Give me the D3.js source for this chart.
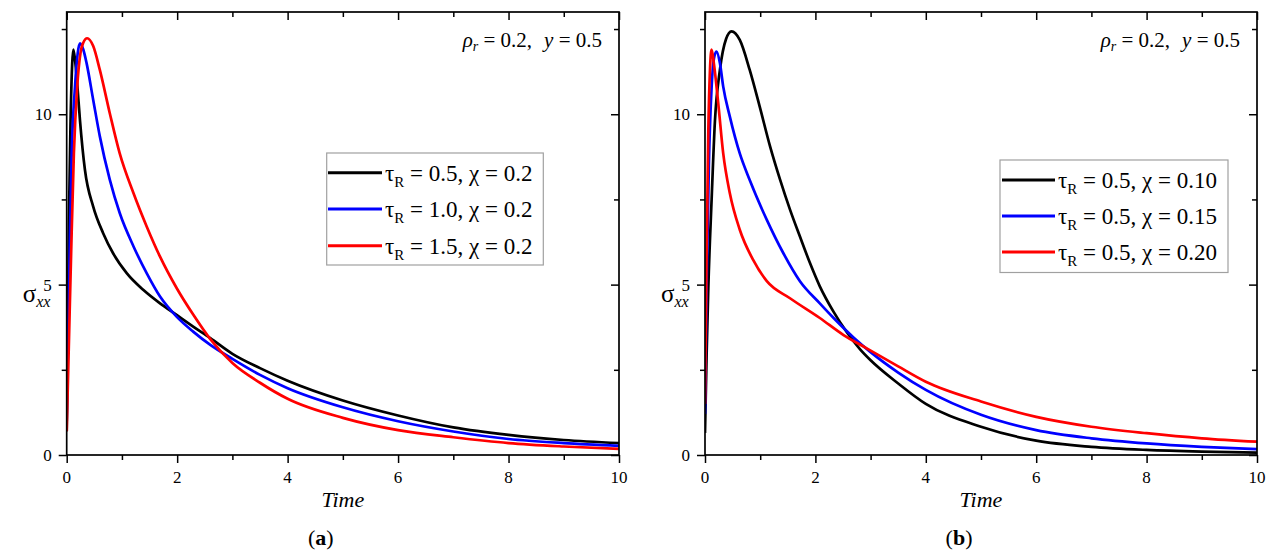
<!DOCTYPE html>
<html><head><meta charset="utf-8">
<script src="https://cdn.jsdelivr.net/npm/d3@7"></script>
<style>body{margin:0;background:#fff}</style>
</head><body>
<svg id="c" width="1277" height="558"></svg>
<script>
// ---------- data ----------
// Panel (a): tau_R varies, chi = 0.2
const timeA1  = [0,0.02,0.04,0.07,0.1,0.12,0.15,0.19,0.24,0.33,0.48,0.66,0.84,1.09,1.39,1.69,1.99,2.29,2.6,3.0,3.5,4,5,6,7,8,9,10];
const sigmaA1 = [0.7,3.5,6.9,9.8,11.5,11.9,11.6,10.9,9.83,8.37,7.29,6.51,5.92,5.33,4.84,4.45,4.11,3.77,3.43,2.97,2.55,2.18,1.6,1.16,0.81,0.59,0.44,0.35];
const timeA2  = [0,0.04,0.09,0.15,0.2,0.24,0.3,0.36,0.48,0.6,0.78,0.96,1.21,1.45,1.69,1.99,2.29,2.6,3.0,3.5,4,5,6,7,8,9,10];
const sigmaA2 = [1.0,4.9,8.85,10.8,11.8,12.08,11.9,11.5,10.42,9.35,8.08,7.1,6.12,5.33,4.65,4.06,3.62,3.23,2.82,2.35,1.96,1.4,0.99,0.69,0.47,0.35,0.27];
const timeA3  = [0,0.04,0.08,0.13,0.19,0.25,0.3,0.37,0.48,0.6,0.78,0.96,1.21,1.45,1.69,1.99,2.29,2.6,3.0,3.5,4,5,6,7,8,9,10];
const sigmaA3 = [0.7,3.3,5.9,8.85,10.8,11.8,12.1,12.23,12.0,11.3,10.03,8.85,7.68,6.7,5.82,4.9,4.12,3.4,2.7,2.12,1.65,1.09,0.73,0.52,0.35,0.25,0.18];
const legendTauA = ["0.5","1.0","1.5"];
const legendChiA = ["0.2","0.2","0.2"];

// Panel (b): chi varies, tau_R = 0.5
const timeB1  = [0,0.03,0.06,0.12,0.18,0.27,0.38,0.48,0.63,0.81,0.99,1.18,1.36,1.54,1.72,1.9,2.08,2.33,2.57,2.81,3.0,3.5,4,5,6,7,8,9,10];
const sigmaB1 = [0.65,3.0,4.9,7.5,9.8,11.3,12.2,12.43,12.18,11.3,10.23,9.05,8.08,7.2,6.41,5.64,4.95,4.2,3.6,3.1,2.78,2.1,1.5,0.83,0.42,0.24,0.15,0.1,0.07];
const timeB2  = [0,0.03,0.07,0.12,0.17,0.21,0.27,0.33,0.45,0.63,0.81,1.12,1.42,1.72,2.08,2.33,2.69,3.0,3.5,4,5,6,7,8,9,10];
const sigmaB2 = [1.2,5.0,8.5,10.8,11.7,11.84,11.5,10.81,9.93,8.85,8.07,6.9,5.92,5.1,4.45,4.02,3.45,3.02,2.42,1.91,1.18,0.73,0.49,0.34,0.24,0.17];
const timeB3  = [0,0.03,0.06,0.09,0.12,0.16,0.24,0.33,0.45,0.63,0.87,1.12,1.54,2.08,2.51,2.93,3.5,4,5,6,7,8,9,10];
const sigmaB3 = [1.5,6.0,9.5,11.3,11.9,11.5,10.32,8.85,7.68,6.61,5.73,5.1,4.6,4.02,3.52,3.13,2.6,2.15,1.57,1.12,0.83,0.64,0.49,0.39];
const legendTauB = ["0.5","0.5","0.5"];
const legendChiB = ["0.10","0.15","0.20"];

const seriesColors = ["#000000","#0000ff","#ff0000"];
const xMajorTicks = [0,2,4,6,8,10];
const xMinorTicks = [1,3,5,7,9];
const yMajorTicks = [0,5,10];
const yMinorTicks = [2.5,7.5,12.5];
const annotationRho = "0.2";
const annotationY = "0.5";

// ---------- drawing ----------
const svg = d3.select("#c");
const F = "Liberation Serif";

function styleAxis(sel){
  sel.select(".domain").remove();
  sel.selectAll("line").attr("stroke","#000").attr("stroke-width",1.5);
}

// plain text node appended directly to the root svg
function T(x, y, size, str, opts){
  opts = opts || {};
  const t = svg.append("text").attr("x",x).attr("y",y)
    .attr("font-family",F).attr("font-size",size).attr("fill","#000");
  if (opts.anchor) t.attr("text-anchor",opts.anchor);
  if (opts.italic) t.attr("font-style","italic");
  if (opts.bold) t.attr("font-weight","bold");
  if (str !== null) t.text(str);
  return t;
}

function panel(cfg){
  const yTop = 12, yBot = 455;
  const x = d3.scaleLinear().domain([0,10]).range([cfg.x0,cfg.x1]);
  const y = d3.scaleLinear().domain([0,13]).range([yBot,yTop]);
  const g = svg.append("g");

  const clip = "clip" + cfg.id;
  g.append("clipPath").attr("id",clip).append("rect")
    .attr("x",cfg.x0).attr("y",yTop).attr("width",cfg.x1-cfg.x0).attr("height",yBot-yTop);

  const line = d3.line().x(d=>x(d[0])).y(d=>y(d[1])).curve(d3.curveMonotoneX);
  cfg.series.forEach((s,i)=>{
    g.append("path").datum(d3.zip(s[0],s[1]))
      .attr("d",line).attr("fill","none")
      .attr("stroke",seriesColors[i]).attr("stroke-width",2.7)
      .attr("stroke-linejoin","round")
      .attr("clip-path",`url(#${clip})`);
  });

  // axes (tick marks via d3-axis; labels drawn as root-level text from the same scales)
  g.append("g").attr("transform",`translate(0,${yBot})`)
    .call(d3.axisBottom(x).tickValues(xMajorTicks).tickSize(8).tickFormat("")).call(styleAxis);
  g.append("g").attr("transform",`translate(0,${yBot})`)
    .call(d3.axisBottom(x).tickValues(xMinorTicks).tickSize(5).tickFormat("")).call(styleAxis);
  g.append("g").attr("transform",`translate(0,${yTop})`)
    .call(d3.axisTop(x).tickValues(xMajorTicks).tickSize(-8).tickFormat("")).call(styleAxis);
  g.append("g").attr("transform",`translate(0,${yTop})`)
    .call(d3.axisTop(x).tickValues(xMinorTicks).tickSize(-5).tickFormat("")).call(styleAxis);
  g.append("g").attr("transform",`translate(${cfg.x0},0)`)
    .call(d3.axisLeft(y).tickValues(yMajorTicks).tickSize(8).tickFormat("")).call(styleAxis);
  g.append("g").attr("transform",`translate(${cfg.x0},0)`)
    .call(d3.axisLeft(y).tickValues(yMinorTicks).tickSize(5).tickFormat("")).call(styleAxis);
  g.append("g").attr("transform",`translate(${cfg.x1},0)`)
    .call(d3.axisRight(y).tickValues(yMajorTicks).tickSize(-8).tickFormat("")).call(styleAxis);
  g.append("g").attr("transform",`translate(${cfg.x1},0)`)
    .call(d3.axisRight(y).tickValues(yMinorTicks).tickSize(-5).tickFormat("")).call(styleAxis);

  xMajorTicks.forEach(v => T(x(v), yBot + 28, 17, d3.format("d")(v), {anchor:"middle"}));
  yMajorTicks.forEach(v => T(cfg.x0 - 15, y(v) + 6, 17, d3.format("d")(v), {anchor:"end"}));

  // frame
  g.append("rect").attr("x",cfg.x0).attr("y",yTop).attr("width",cfg.x1-cfg.x0).attr("height",yBot-yTop)
    .attr("fill","none").attr("stroke","#000").attr("stroke-width",1.7);

  // y axis title sigma_xx
  const yt = T(cfg.x0-44, 302, 25, null);
  yt.append("tspan").text("σ");
  yt.append("tspan").attr("font-style","italic").attr("font-size",16).attr("dy",5).text("xx");

  // x axis title
  T((cfg.x0+cfg.x1)/2, 507, 22, "Time", {anchor:"middle", italic:true});

  // caption (a)/(b)
  const cap = T((cfg.x0+cfg.x1)/2-22, 545, 22, null, {anchor:"middle"});
  cap.append("tspan").text("(");
  cap.append("tspan").attr("font-weight","bold").text(cfg.letter);
  cap.append("tspan").text(")");

  // annotation
  const an = T(cfg.x1-17, 47, 21, null, {anchor:"end"});
  an.append("tspan").attr("font-style","italic").text("ρ");
  an.append("tspan").attr("font-style","italic").attr("font-size",14).attr("dy",4).text("r");
  an.append("tspan").attr("dy",-4).text(" = " + annotationRho + ",");
  an.append("tspan").attr("dx",12).attr("font-style","italic").text("y");
  an.append("tspan").text(" = " + annotationY);

  // legend
  const L = cfg.legend;
  g.append("rect").attr("x",L.bx0).attr("y",L.by0).attr("width",L.bx1-L.bx0).attr("height",L.by1-L.by0)
    .attr("fill","#fff").attr("stroke","#a0a0a0").attr("stroke-width",1.2);
  L.rows.forEach((ry,i)=>{
    g.append("line").attr("x1",L.lx0).attr("x2",L.lx1).attr("y1",ry).attr("y2",ry)
      .attr("stroke",seriesColors[i]).attr("stroke-width",3);
    const t = T(L.tx, ry+8, 23, null);
    t.append("tspan").text("τ");
    t.append("tspan").attr("font-size",15).attr("dy",6).text("R");
    t.append("tspan").attr("dy",-6).text(" = " + cfg.tau[i] + ", χ = " + cfg.chi[i]);
  });
}

panel({id:"a", letter:"a", x0:66.7, x1:619,
  series:[[timeA1,sigmaA1],[timeA2,sigmaA2],[timeA3,sigmaA3]],
  tau:legendTauA, chi:legendChiA,
  legend:{bx0:326.7,bx1:543.3,by0:153,by1:265,rows:[172.7,209,245.7],lx0:328,lx1:382,tx:385}});
panel({id:"b", letter:"b", x0:705, x1:1257,
  series:[[timeB1,sigmaB1],[timeB2,sigmaB2],[timeB3,sigmaB3]],
  tau:legendTauB, chi:legendChiB,
  legend:{bx0:1000,bx1:1228,by0:160,by1:272.5,rows:[180,216,252],lx0:1002,lx1:1055,tx:1058}});
</script>
</body></html>
